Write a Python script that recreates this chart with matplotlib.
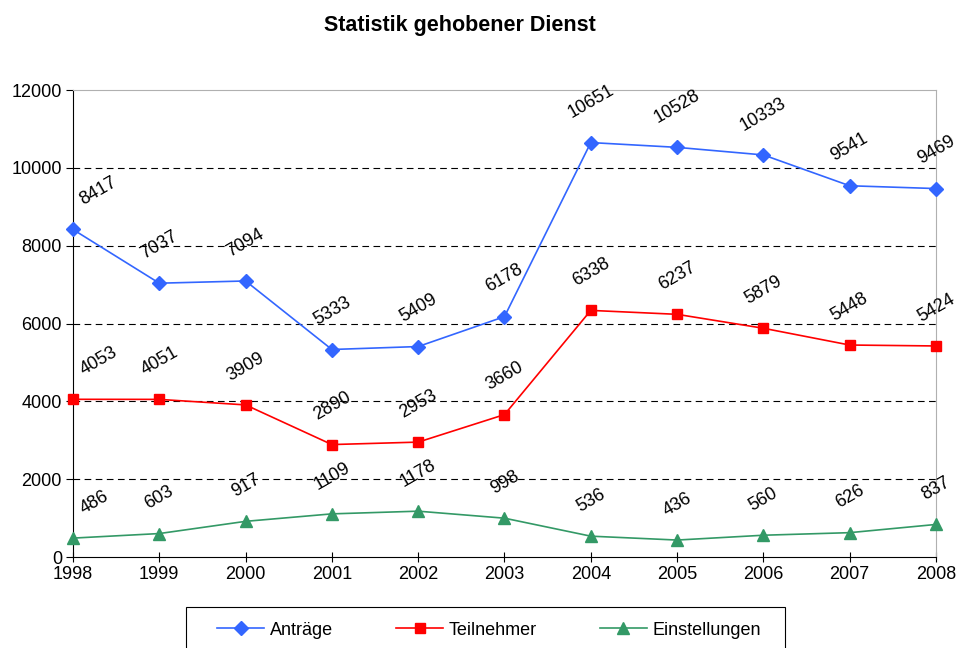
import numpy as np
import matplotlib
matplotlib.use('Agg')
import matplotlib.pyplot as plt
from matplotlib.patches import Rectangle

plt.rcParams['font.family'] = ['Liberation Sans', 'DejaVu Sans']

jahre = [1998, 1999, 2000, 2001, 2002, 2003, 2004, 2005, 2006, 2007, 2008]
antraege = [8417, 7037, 7094, 5333, 5409, 6178, 10651, 10528, 10333, 9541, 9469]
teilnehmer = [4053, 4051, 3909, 2890, 2953, 3660, 6338, 6237, 5879, 5448, 5424]
einstellungen = [486, 603, 917, 1109, 1178, 998, 536, 436, 560, 626, 837]

reihen = [
    ('Anträge', antraege, '#3366FF', 'D', 7),
    ('Teilnehmer', teilnehmer, '#FF0000', 's', 6.5),
    ('Einstellungen', einstellungen, '#339966', '^', 8),
]

fig = plt.figure(figsize=(9.58, 6.48), dpi=100)
ax = fig.add_axes([0.0762, 0.1404, 0.9008, 0.7206])

for name, werte, farbe, marker, ms in reihen:
    ax.plot(jahre, werte, color=farbe, marker=marker, markersize=ms,
            linewidth=1.2, label=name, clip_on=False, zorder=3)
    for i, (x, y) in enumerate(zip(jahre, werte)):
        if i == 0:
            ax.annotate(str(y), (x, y), xytext=(3, 15), textcoords='offset points',
                        ha='left', va='bottom', rotation=30, fontsize=13)
        else:
            ax.annotate(str(y), (x, y), xytext=(0, 15), textcoords='offset points',
                        ha='center', va='bottom', rotation=30, fontsize=13)

ax.set_xlim(1998, 2008)
ax.set_ylim(0, 12000)
ax.set_xticks(jahre)
ax.set_yticks(np.arange(0, 12001, 2000))
ax.tick_params(axis='x', direction='inout', length=7, labelsize=13, pad=3)
ax.tick_params(axis='y', direction='out', length=5, labelsize=13, pad=3)

for y in range(2000, 12000, 2000):
    ax.axhline(y, color='black', linestyle=(0, (6, 4)), linewidth=0.8, zorder=1)

ax.spines['top'].set_color('#B0B0B0')
ax.spines['right'].set_color('#B0B0B0')
ax.spines['left'].set_color('black')
ax.spines['bottom'].set_color('black')

fig.suptitle('Statistik gehobener Dienst', fontsize=15.5, fontweight='bold',
             x=0.480, y=0.977)

# Legende ohne eigenen Rahmen, Rahmen separat wie im Original
leg = fig.legend(loc='upper center', bbox_to_anchor=(0.5104, 0.0633), ncol=3,
                 frameon=False, fontsize=13,
                 columnspacing=3.5, handlelength=2.6, handletextpad=0.3,
                 borderpad=0.82, borderaxespad=0)
rahmen = Rectangle((186 / 958, -0.01), (785 - 186) / 958, 0.0633 + 0.01,
                   transform=fig.transFigure, fill=False, edgecolor='black',
                   linewidth=0.8)
fig.patches.append(rahmen)

fig.savefig('out.png', dpi=100)
